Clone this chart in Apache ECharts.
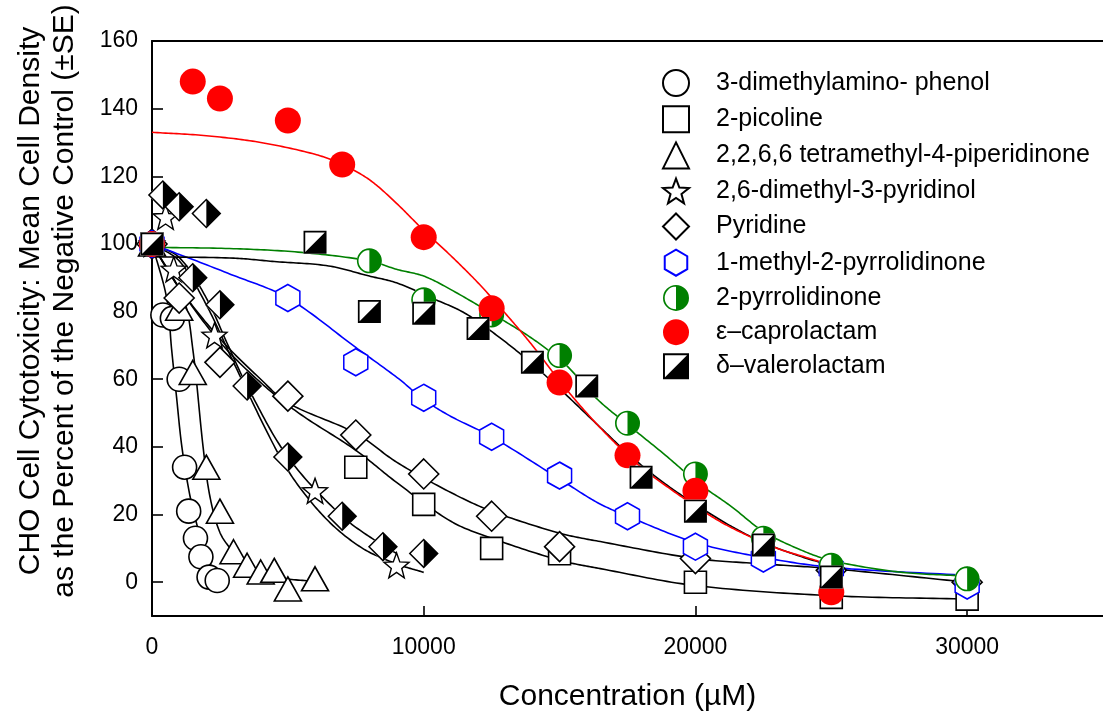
<!DOCTYPE html>
<html>
<head>
<meta charset="utf-8">
<style>
  html, body { margin: 0; padding: 0; background: #fff; }
  #chart { width: 1103px; height: 717px; }
</style>
<script src="https://cdn.jsdelivr.net/npm/echarts@6/dist/echarts.min.js"></script>
</head>
<body>
<div id="chart"></div>
<script>
// Axis ticks
const concentrationTicks = [0, 10000, 20000, 30000];
const percentTicks = [0, 20, 40, 60, 80, 100, 120, 140, 160];

// Measured cell density (% of negative control) vs concentration (µM)
const dimethylaminophenol = [[0,100],[400,79],[750,78],[1000,60],[1200,34],[1350,21],[1600,13],[1800,7.5],[2100,1.5],[2400,0.5]];
const picoline = [[0,100],[7500,34],[10000,23],[12500,10],[15000,8.4],[20000,0],[25000,-4.5],[30000,-5]];
const tetramethylPiperidinone = [[0,100],[1000,81],[1500,62],[2000,34],[2500,21],[3000,9],[3500,5],[4000,3],[4500,3.5],[5000,-2],[6000,1]];
const dimethylPyridinol = [[0,100],[500,108],[800,92.5],[2300,73],[6000,27],[9000,5]];
const pyridine = [[0,100],[1000,84],[2500,65],[5000,55],[7500,43.5],[10000,32],[12500,19.5],[15000,10.5],[20000,7],[25000,3.5],[30000,0]];
const methylPyrrolidinone = [[0,100],[5000,84],[7500,65],[10000,54.5],[12500,43],[15000,31.5],[17500,19.5],[20000,10.5],[22500,7],[25000,4],[30000,-1]];
const pyrrolidinone = [[0,100],[8000,95],[10000,83.5],[12500,79],[15000,67],[17500,47],[20000,32],[22500,13],[25000,5],[30000,1]];
const caprolactam = [[0,100],[1500,148],[2500,143],[5000,136.5],[7000,123.5],[10000,102],[12500,81],[15000,59],[17500,37.5],[20000,27],[25000,-3]];
const valerolactam = [[0,100],[6000,100.5],[8000,80],[10000,79.5],[12000,75],[14000,65],[16000,58],[18000,31],[20000,21],[22500,11],[25000,1.5]];
const halfDiamondSet = [[0,100],[400,114.5],[1000,111],[1500,90],[2000,109],[2500,82],[3500,58],[5000,37],[7000,19.5],[8500,10.5],[10000,8.5]];

// Fitted dose-response curves
const fitPhenol = [[0,100],[540,84],[720,69],[900,55],[1100,40],[1400,25.4],[1700,15.6],[2000,7.8],[2400,1.5]];
const fitPiperidinone = [[0,100],[1150,84],[1500,69],[1880,40],[2130,25.4],[2500,14.7],[3000,8.8],[3600,3.9],[4450,1.5],[6000,0.2]];
const fitPyridinol = [[0,100],[1000,95],[2000,82],[3000,65],[4450,41],[5300,29.5],[6500,18],[7750,10],[9000,5.4],[10000,2.9]];
const fitHalfDiamond = [[0,100],[1000,96],[2000,84],[2800,70],[3500,58],[5000,37],[7000,19.5],[8500,10.8],[9000,8.5]];
const fitPicoline = [[0,100],[1000,87],[2500,71],[4000,59],[5400,50],[7500,39],[9000,29.5],[11000,18],[12500,13],[15000,6.5],[16500,4],[20000,-1],[25000,-4],[30000,-5]];
const fitPyridine = [[0,100],[1000,87],[2500,72],[4000,60],[5000,53],[7500,44],[9000,35.5],[11000,26.5],[12500,21],[15000,14.5],[16500,12],[20000,7],[22500,5.4],[25000,4],[30000,0]];
const fitMethylPyrrolidinone = [[0,99.5],[400,98.7],[2900,91],[5000,84],[7500,69.4],[9100,60],[10000,54],[11000,49],[12500,43],[15000,30.5],[16400,23.5],[17500,19.5],[20000,11.7],[22500,7.3],[25000,4.4],[30000,2]];
const fitPyrrolidinone = [[0,99],[3000,98.6],[5500,97.5],[8000,95],[9000,92.5],[10000,90.5],[11000,86.5],[12700,78.5],[14000,72],[15200,64.5],[16400,54],[17600,46],[18900,37.5],[20100,29.3],[21300,22.5],[22500,15],[23800,9.8],[25000,6.4],[27500,3],[30000,1.8]];
const fitValerolactam = [[0,96.2],[3000,95.8],[4500,94.8],[6500,93.5],[8000,90.5],[9000,88.5],[10300,84],[11500,79.6],[12800,72.3],[14000,64.5],[15200,55.7],[16400,46.5],[17700,36.7],[18900,29],[20100,22.5],[21300,16.6],[22500,11.7],[23800,7.8],[25000,4.9]];
const fitCaprolactam = [[0,133],[2000,132],[4000,130],[6000,126.5],[7000,123.5],[8000,119],[9000,112],[10000,104],[11000,96.5],[12000,88.5],[13000,79.5],[14000,70],[15000,59.5],[16000,50],[17000,41.5],[18000,34],[19000,28],[20000,22.5],[21000,17.5],[22000,13.5],[23000,10],[24000,7.5],[25000,5]];

const FONT = 'Liberation Sans, Arial, Helvetica, sans-serif';

// Symbol outlines (outer contour clockwise, inner contour counter-clockwise leaves a hollow ring)
const starPath = 'path://M0,-10 L2.47,-3.4 L9.51,-3.09 L3.99,1.3 L5.88,8.09 L0,4.2 L-5.88,8.09 L-3.99,1.3 L-9.51,-3.09 L-2.47,-3.4 Z';
const hexPath = 'path://M0,-10 L8.66,-5 L8.66,5 L0,10 L-8.66,5 L-8.66,-5 Z';
const halfCirclePath = 'path://M0,-10 A10,10 0 1 1 0,10 A10,10 0 1 1 0,-10 Z ' +
  'M0,-8.7 A8.7,8.7 0 1 0 0,8.7 A8.7,8.7 0 1 0 0,-8.7 Z ' +
  'M0,-10 A10,10 0 0 1 0,10 Z';
const halfSquarePath = 'path://M-10,-10 L10,-10 L10,10 L-10,10 Z ' +
  'M-8.5,-8.5 L-8.5,8.5 L8.5,8.5 L8.5,-8.5 Z ' +
  'M10,-10 L10,10 L-10,10 Z';
const halfDiamondPath = 'path://M0,-10 L10,0 L0,10 L-10,0 Z ' +
  'M0,-8.6 L-8.6,0 L0,8.6 L8.6,0 Z ' +
  'M0,-10 L10,0 L0,10 Z';

// Smooth curve through pixel points (Catmull-Rom style cubic segments, sampled densely)
function splinePoints(p) {
  if (p.length < 3) return p;
  const n = p.length;
  const len = [];
  for (let i = 0; i < n - 1; i++) len.push(Math.hypot(p[i + 1][0] - p[i][0], p[i + 1][1] - p[i][1]) || 1e-6);
  const tan = p.map((pt, i) => {
    if (i === 0) return [p[1][0] - p[0][0], p[1][1] - p[0][1]];
    if (i === n - 1) return [p[n - 1][0] - p[n - 2][0], p[n - 1][1] - p[n - 2][1]];
    return [p[i + 1][0] - p[i - 1][0], p[i + 1][1] - p[i - 1][1]];
  });
  const outF = (i) => (i === 0 ? 1 : len[i] / (len[i - 1] + len[i])) / 3;
  const inF = (i) => (i === n - 1 ? 1 : len[i - 1] / (len[i - 1] + len[i])) / 3;
  const out = [p[0]];
  for (let i = 0; i < n - 1; i++) {
    const a = p[i], b = p[i + 1];
    const c1 = [a[0] + tan[i][0] * outF(i), a[1] + tan[i][1] * outF(i)];
    const c2 = [b[0] - tan[i + 1][0] * inF(i + 1), b[1] - tan[i + 1][1] * inF(i + 1)];
    const steps = 20;
    for (let s = 1; s <= steps; s++) {
      const t = s / steps, u = 1 - t;
      out.push([
        u * u * u * a[0] + 3 * u * u * t * c1[0] + 3 * u * t * t * c2[0] + t * t * t * b[0],
        u * u * u * a[1] + 3 * u * u * t * c1[1] + 3 * u * t * t * c2[1] + t * t * t * b[1]
      ]);
    }
  }
  return out;
}

function fitCurve(name, data, color) {
  return {
    name: name, type: 'custom', data: data, silent: true, z: 2,
    encode: { x: 0, y: 1 },
    renderItem: function (params, api) {
      if (params.dataIndex !== 0) return null;
      const px = data.map(d => api.coord(d));
      return {
        type: 'polyline',
        shape: { points: splinePoints(px) },
        style: { stroke: color, lineWidth: 1.6, fill: null }
      };
    }
  };
}

function marks(name, data, symbol, size, fill, stroke, width) {
  return {
    name: name, type: 'scatter', data: data, symbol: symbol, symbolSize: size,
    silent: true, z: 3,
    itemStyle: { color: fill, borderColor: stroke, borderWidth: width, opacity: 1 }
  };
}

// White backing under the half-filled markers so lines do not show through
function backing(data, symbol, size) {
  return {
    name: '_back', type: 'scatter', data: data, symbol: symbol, symbolSize: size,
    silent: true, z: 3, itemStyle: { color: '#fff', borderWidth: 0, opacity: 1 }
  };
}

const legendNames = [
  '3-dimethylamino- phenol', '2-picoline', '2,2,6,6 tetramethyl-4-piperidinone',
  '2,6-dimethyl-3-pyridinol', 'Pyridine', '1-methyl-2-pyrrolidinone',
  '2-pyrrolidinone', '\u03b5\u2013caprolactam', '\u03b4\u2013valerolactam'
];

const series = [
  fitCurve('f1', fitPhenol, '#000'),
  fitCurve('f2', fitPiperidinone, '#000'),
  fitCurve('f3', fitPyridinol, '#000'),
  fitCurve('f4', fitHalfDiamond, '#000'),
  fitCurve('f5', fitPicoline, '#000'),
  fitCurve('f6', fitPyridine, '#000'),
  fitCurve('f7', fitMethylPyrrolidinone, '#0000ff'),
  fitCurve('f8', fitPyrrolidinone, '#008000'),
  fitCurve('f9', fitValerolactam, '#000'),
  fitCurve('f10', fitCaprolactam, '#ff0000'),

  marks(legendNames[0], dimethylaminophenol, 'circle', 24, '#fff', '#000', 1.6),
  marks(legendNames[1], picoline, 'rect', 22, '#fff', '#000', 1.6),
  marks(legendNames[2], tetramethylPiperidinone, 'triangle', [27, 24], '#fff', '#000', 1.6),
  marks(legendNames[3], dimethylPyridinol, starPath, 25, '#fff', '#000', 1.4),
  backing(halfDiamondSet, 'diamond', 30),
  marks('halfDiamond', halfDiamondSet, halfDiamondPath, 30, '#000', '#000', 0),
  marks(legendNames[4], pyridine, 'diamond', 30, '#fff', '#000', 1.6),
  marks(legendNames[5], methylPyrrolidinone, hexPath, [24, 27], '#fff', '#0000ff', 1.6),
  backing(pyrrolidinone, 'circle', 25),
  marks(legendNames[6], pyrrolidinone, halfCirclePath, 25, '#008000', '#008000', 0),
  marks(legendNames[7], caprolactam, 'circle', 26, '#ff0000', '#ff0000', 0),
  backing(valerolactam, 'rect', 23),
  marks(legendNames[8], valerolactam, halfSquarePath, 23, '#000', '#000', 0)
];

const plainNumber = (v) => String(v);

const chart = echarts.init(document.getElementById('chart'), null, { renderer: 'canvas' });
chart.setOption({
  animation: false,
  backgroundColor: '#fff',
  grid: { left: 152, top: 41, width: 954, height: 580, containLabel: false },
  xAxis: [{
    type: 'value', min: 0, max: 35000,
    name: 'Concentration (\u00b5M)', nameLocation: 'middle', nameGap: 66,
    nameTextStyle: { fontSize: 30, fontFamily: FONT, color: '#000' },
    axisLine: { show: true, onZero: false, lineStyle: { color: '#000', width: 2 } },
    axisTick: { show: true, inside: true, length: 10, customValues: concentrationTicks, lineStyle: { color: '#000', width: 1.6 } },
    axisLabel: { show: true, customValues: concentrationTicks, formatter: plainNumber, margin: 20, fontSize: 23, fontFamily: FONT, color: '#000' },
    splitLine: { show: false }
  }, {
    type: 'value', min: 0, max: 35000, position: 'top',
    axisLine: { show: true, onZero: false, lineStyle: { color: '#000', width: 2 } },
    axisTick: { show: false }, axisLabel: { show: false }, splitLine: { show: false }
  }],
  yAxis: {
    type: 'value', min: -10, max: 160,
    axisLine: { show: true, onZero: false, lineStyle: { color: '#000', width: 2 } },
    axisTick: { show: true, inside: true, length: 11, customValues: percentTicks, lineStyle: { color: '#000', width: 1.6 } },
    axisLabel: { show: true, customValues: percentTicks, formatter: plainNumber, margin: 14, fontSize: 23, fontFamily: FONT, color: '#000' },
    splitLine: { show: false }
  },
  legend: {
    data: legendNames,
    orient: 'vertical', left: 657, top: 64,
    itemWidth: 26, itemHeight: 26, itemGap: 8.2,
    selectedMode: false,
    textStyle: { fontSize: 25, fontFamily: FONT, color: '#000', padding: [0, 0, 0, 22], lineHeight: 26 }
  },
  graphic: [
    { type: 'text', x: 31, y: 301, rotation: Math.PI / 2,
      style: { text: 'CHO Cell Cytotoxicity: Mean Cell Density', fontSize: 30, fontFamily: FONT, fill: '#000', align: 'center', verticalAlign: 'middle' } },
    { type: 'text', x: 65, y: 301, rotation: Math.PI / 2,
      style: { text: 'as the Percent of the Negative Control (\u00b1SE)', fontSize: 30, fontFamily: FONT, fill: '#000', align: 'center', verticalAlign: 'middle' } }
  ],
  series: series
});
</script>
</body>
</html>
